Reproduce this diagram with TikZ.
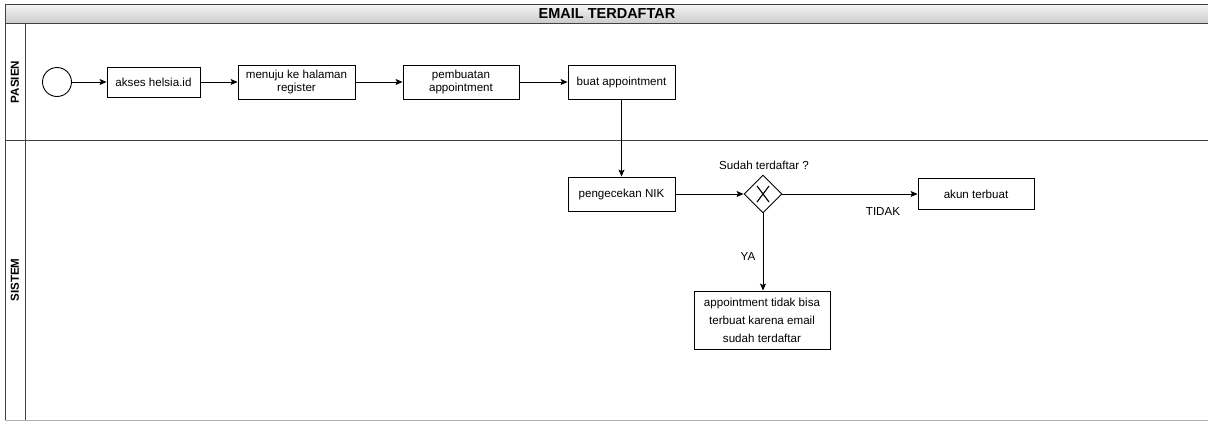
\documentclass[tikz,border=0pt]{standalone}
\usepackage{fontspec}
\setmainfont{Liberation Sans}
\usetikzlibrary{shapes.geometric,arrows.meta,calc}
\begin{document}
\begin{tikzpicture}[x=1pt,y=-1pt,
  lane/.style={draw=black!75,line width=0.9pt},
  task/.style={draw,rectangle,line width=0.9pt,align=center,inner sep=0pt,font=\fontsize{11.6}{13}\selectfont},
  lbl/.style={font=\fontsize{11.6}{13}\selectfont,inner sep=0pt},
  flow/.style={draw,line width=0.9pt,-{Stealth[length=7pt,width=6pt,inset=1.5pt]}},
  hdr/.style={font=\bfseries\fontsize{11.6}{13}\selectfont,rotate=90,inner sep=0pt}]
\useasboundingbox (0,0) rectangle (1208,421);
% title bar
\shade[top color=gray!8,bottom color=gray!40] (5,4) rectangle (1208,23);
\draw[lane] (1208,4) -- (5,4) -- (5,421);
\draw[lane] (5,23) -- (1208,23);
\node[font=\bfseries\fontsize{14.5}{16}\selectfont,inner sep=0pt] (title) at (607,13.5) {EMAIL TERDAFTAR};
% lanes
\draw[lane] (25,23) -- (25,421);
\draw[lane] (5,140) -- (1208,140);
\draw[draw=black!30,line width=0.6pt] (5,420.5) -- (1208,420.5);
\node[hdr] (pasien) at (15,82) {PASIEN};
\node[hdr] (sistem) at (15,280) {SISTEM};
% nodes
\node[draw,circle,line width=0.9pt,minimum size=29pt,inner sep=0pt] (start) at (57,82) {};
\node[task,minimum width=93pt,minimum height=30pt] (akses) at (153.5,82) {akses helsia.id};
\node[task,minimum width=117pt,minimum height=34pt] (menuju) at (296.5,82) {menuju ke halaman\\register};
\node[task,minimum width=116pt,minimum height=34pt] (pembuatan) at (461,82) {pembuatan\\appointment};
\node[task,minimum width=107pt,minimum height=34pt] (buat) at (621.5,82) {buat appointment};
\node[task,minimum width=107pt,minimum height=34pt] (cek) at (621.5,194) {pengecekan NIK};
\node[draw,diamond,line width=0.9pt,minimum width=38pt,minimum height=38pt,inner sep=0pt] (gw) at (763,194) {};
\draw[line width=1.1pt] ($(gw)+(-6,-8)$) -- ($(gw)+(6,8)$) ($(gw)+(6,-8)$) -- ($(gw)+(-6,8)$);
\node[task,minimum width=116pt,minimum height=31pt] (akun) at (976,194) {akun terbuat};
\node[task,minimum width=136pt,minimum height=58pt,font=\fontsize{11.6}{18}\selectfont] (tolak) at (762,320) {appointment tidak bisa\\terbuat karena email\\sudah terdaftar};
% labels
\node[lbl] (q) at (764,165) {Sudah terdaftar ?};
\node[lbl] (tidak) at (883,212) {TIDAK};
\node[lbl] (ya) at (748,257) {YA};
% flows
\draw[flow] (start) -- (akses);
\draw[flow] (akses) -- (menuju);
\draw[flow] (menuju) -- (pembuatan);
\draw[flow] (pembuatan) -- (buat);
\draw[flow] (buat) -- (cek);
\draw[flow] (cek) -- (gw);
\draw[flow] (gw) -- (akun);
\draw[flow] (gw) -- (tolak.north -| gw);
\end{tikzpicture}
\end{document}
